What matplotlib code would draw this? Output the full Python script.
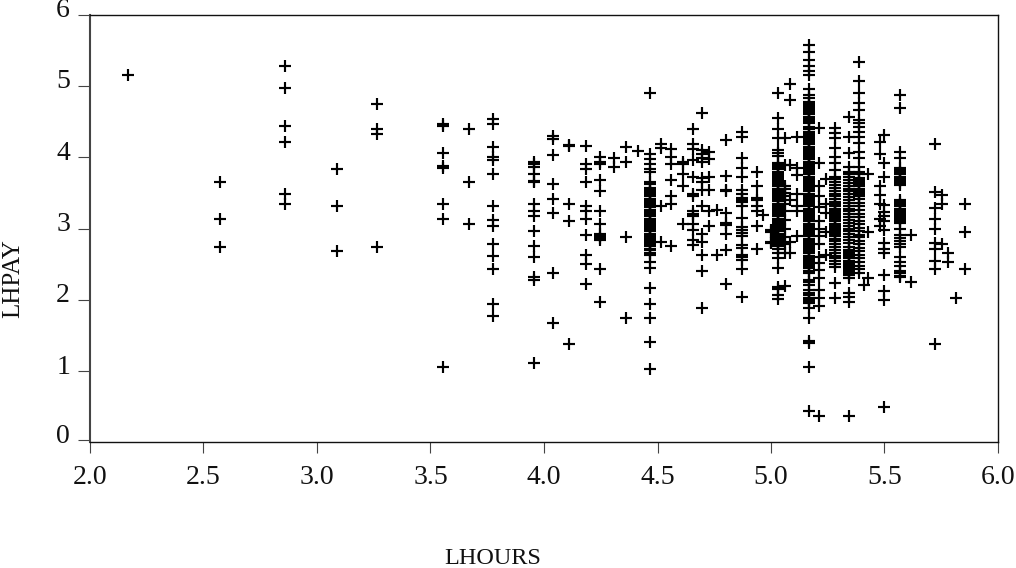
import matplotlib
matplotlib.use("Agg")
from matplotlib import pyplot as plt
from matplotlib.transforms import ScaledTranslation

# log hours for each vertical column of points
lhours = [2.167, 2.574, 2.857, 3.087, 3.264, 3.556, 3.671, 3.777, 3.954, 4.038,
          4.110, 4.184, 4.247, 4.308, 4.361, 4.414, 4.466, 4.517, 4.561, 4.611,
          4.655, 4.696, 4.727, 4.760, 4.800, 4.874, 4.937, 4.966, 5.000, 5.031,
          5.062, 5.084, 5.115, 5.166, 5.210, 5.243, 5.282, 5.344, 5.386, 5.410,
          5.428, 5.480, 5.500, 5.569, 5.615, 5.721, 5.752, 5.778, 5.815, 5.856]

lhpay = [
    [5.15],
    [3.66, 3.13, 2.74],
    [5.28, 4.97, 4.44, 4.22, 3.48, 3.34],
    [3.84, 3.31, 2.69],
    [4.75, 4.39, 4.33, 2.74],
    [4.46, 4.44, 4.06, 3.88, 3.85, 3.34, 3.13, 1.06],
    [4.40, 3.66, 3.06],
    [4.53, 4.47, 4.14, 4.00, 3.96, 3.77, 3.31, 3.12, 3.04, 2.78, 2.62, 2.43, 1.94, 1.78],
    [3.93, 3.90, 3.87, 3.77, 3.67, 3.65, 3.34, 3.25, 3.17, 2.97, 2.76, 2.60, 2.32, 2.28, 1.12],
    [4.30, 4.25, 4.03, 3.62, 3.41, 3.22, 2.37, 1.68],
    [4.17, 4.16, 3.34, 3.10, 1.38],
    [4.16, 3.90, 3.84, 3.66, 3.32, 3.25, 3.13, 2.91, 2.63, 2.50, 2.22],
    [4.01, 3.94, 3.91, 3.68, 3.52, 3.25, 3.07, 2.93, 2.90, 2.87, 2.84, 2.43, 1.97],
    [3.99, 3.86],
    [4.15, 3.94, 2.88, 1.74],
    [4.09],
    [4.90, 4.05, 3.98, 3.90, 3.84, 3.80, 3.66, 3.63, 3.57, 3.54, 3.51, 3.48, 3.45, 3.42,
     3.39, 3.36, 3.33, 3.30, 3.26, 3.23, 3.20, 3.17, 3.14, 3.11, 3.08, 3.05, 3.02, 2.99,
     2.96, 2.93, 2.90, 2.87, 2.84, 2.81, 2.78, 2.75, 2.72, 2.70, 2.65, 2.63, 2.53, 2.44,
     2.16, 1.94, 1.74, 1.41, 1.03],
    [4.18, 4.13, 3.32, 2.81],
    [4.12, 4.00, 3.91, 3.68, 3.46, 3.34, 2.75],
    [3.94, 3.91, 3.77, 3.59, 3.07],
    [4.40, 4.19, 4.12, 3.96, 3.73, 3.49, 3.45, 3.24, 3.20, 3.17, 3.07, 2.98, 2.84, 2.77],
    [4.62, 4.10, 4.05, 3.99, 3.94, 3.71, 3.66, 3.54, 3.31, 2.93, 2.81, 2.63, 2.41, 1.88],
    [4.08, 3.98, 3.73, 3.54, 3.24, 3.03],
    [3.26, 2.63],
    [4.24, 3.74, 3.54, 3.52, 3.22, 3.08, 3.05, 2.93, 2.70, 2.22],
    [4.36, 4.29, 3.99, 3.85, 3.72, 3.54, 3.49, 3.43, 3.40, 3.37, 3.31, 3.15, 3.02, 2.98,
     2.94, 2.90, 2.77, 2.73, 2.63, 2.60, 2.56, 2.43, 2.04],
    [3.80, 3.60, 3.43, 3.40, 3.31, 3.24, 3.03, 2.72],
    [3.19],
    [2.98, 2.95, 2.81, 2.80],
    [4.90, 4.55, 4.40, 4.27, 4.10, 4.06, 4.02, 3.92, 3.89, 3.86, 3.83, 3.80, 3.77, 3.74,
     3.71, 3.68, 3.65, 3.62, 3.59, 3.56, 3.53, 3.50, 3.47, 3.44, 3.41, 3.38, 3.35, 3.32,
     3.29, 3.26, 3.23, 3.20, 3.17, 3.14, 3.11, 3.08, 3.05, 3.02, 2.99, 2.96, 2.93, 2.90,
     2.87, 2.84, 2.81, 2.78, 2.75, 2.72, 2.66, 2.59, 2.44, 2.18, 2.15, 2.07, 2.01],
    [4.27, 3.89, 3.60, 3.55, 3.50, 3.45, 3.35, 3.24, 3.12, 3.00, 2.88, 2.78, 2.66, 2.19],
    [5.03, 4.81, 3.89, 3.40, 2.81, 2.65],
    [4.28, 3.85, 3.75, 3.49, 3.31, 3.24, 2.90],
    [5.57, 5.47, 5.36, 5.28, 5.21, 5.15, 4.96, 4.87, 4.83, 4.78, 4.75, 4.72, 4.69, 4.66,
     4.63, 4.60, 4.57, 4.54, 4.51, 4.48, 4.42, 4.39, 4.36, 4.33, 4.30, 4.27, 4.24, 4.21,
     4.18, 4.15, 4.12, 4.09, 4.06, 4.03, 4.00, 3.97, 3.94, 3.91, 3.88, 3.85, 3.82, 3.79,
     3.76, 3.73, 3.70, 3.67, 3.64, 3.61, 3.58, 3.55, 3.52, 3.49, 3.46, 3.43, 3.40, 3.37,
     3.34, 3.31, 3.28, 3.25, 3.22, 3.19, 3.16, 3.13, 3.10, 3.07, 3.04, 3.01, 2.98, 2.95,
     2.92, 2.89, 2.86, 2.83, 2.80, 2.77, 2.74, 2.71, 2.68, 2.65, 2.62, 2.59, 2.56, 2.53,
     2.50, 2.47, 2.44, 2.41, 2.37, 2.28, 2.25, 2.21, 2.14, 2.10, 2.07, 2.03, 2.00, 1.97,
     1.95, 1.88, 1.74, 1.42, 1.40, 1.06, 0.44],
    [4.41, 3.92, 3.60, 3.45, 3.30, 3.10, 3.00, 2.90, 2.79, 2.60, 2.51, 2.42, 2.30, 2.14,
     2.02, 1.91, 0.37],
    [3.69, 3.35, 3.22, 2.95, 2.63],
    [4.41, 4.34, 4.27, 4.13, 4.01, 3.92, 3.82, 3.73, 3.69, 3.65, 3.61, 3.57, 3.53, 3.49,
     3.45, 3.41, 3.37, 3.34, 3.31, 3.28, 3.25, 3.22, 3.19, 3.16, 3.13, 3.10, 3.07, 3.04,
     3.01, 2.98, 2.95, 2.92, 2.89, 2.86, 2.82, 2.78, 2.74, 2.70, 2.66, 2.62, 2.58, 2.54,
     2.50, 2.46, 2.23, 2.02],
    [4.56, 4.28, 4.06, 3.86, 3.80, 3.76, 3.72, 3.68, 3.64, 3.60, 3.56, 3.52, 3.48, 3.44,
     3.40, 3.36, 3.32, 3.28, 3.24, 3.20, 3.16, 3.12, 3.08, 3.04, 3.00, 2.96, 2.92, 2.88,
     2.84, 2.80, 2.74, 2.70, 2.67, 2.64, 2.61, 2.58, 2.55, 2.52, 2.49, 2.46, 2.43, 2.40,
     2.37, 2.35, 2.30, 2.10, 2.04, 1.97, 0.37],
    [5.34, 5.07, 4.90, 4.76, 4.66, 4.52, 4.48, 4.42, 4.35, 4.28, 4.20, 4.07, 3.99, 3.86,
     3.80, 3.76, 3.71, 3.68, 3.65, 3.62, 3.59, 3.56, 3.53, 3.50, 3.47, 3.45, 3.41, 3.36,
     3.31, 3.26, 3.21, 3.16, 3.11, 3.06, 3.01, 2.96, 2.91, 2.88, 2.83, 2.78, 2.73, 2.68,
     2.63, 2.58, 2.53, 2.48, 2.43, 2.38],
    [2.21],
    [3.76, 2.95, 2.31],
    [4.22, 4.05, 3.59, 3.47, 3.35, 3.13, 3.03],
    [4.31, 3.92, 3.73, 3.33, 3.23, 3.17, 3.10, 2.98, 2.80, 2.72, 2.65, 2.35, 2.13, 2.00, 0.50],
    [4.88, 4.69, 4.07, 3.99, 3.85, 3.82, 3.79, 3.76, 3.73, 3.70, 3.67, 3.64, 3.61, 3.40,
     3.37, 3.34, 3.31, 3.28, 3.25, 3.22, 3.19, 3.16, 3.13, 3.10, 3.08, 3.00, 2.91, 2.87,
     2.83, 2.79, 2.74, 2.60, 2.53, 2.47, 2.40, 2.37, 2.34, 2.32],
    [2.91, 2.25],
    [4.18, 3.51, 3.29, 3.13, 3.00, 2.80, 2.72, 2.55, 2.43, 1.38],
    [3.47, 3.34, 2.78],
    [2.65, 2.53],
    [2.03],
    [3.34, 2.95, 2.43],
]

xticks = [2.0, 2.5, 3.0, 3.5, 4.0, 4.5, 5.0, 5.5, 6.0]
xlabels = ["2.0", "2.5", "3.0", "3.5", "4.0", "4.5", "5.0", "5.5", "6.0"]
yticks = [0.03, 1, 2, 3, 4, 5, 6]  # the 0 tick sits a little above the axis in the original
ylabels = ["0", "1", "2", "3", "4", "5", "6"]

plt.rcParams['font.family'] = ['Liberation Serif', 'DejaVu Serif']

W, H = 1016, 568
fig = plt.figure(figsize=(W / 100, H / 100), dpi=100)
ax = fig.add_axes([90 / W, 1 - 442.4 / H, 908 / W, (442.4 - 14.7) / H])

xs = []
ys = []
for x, col in zip(lhours, lhpay):
    for y in col:
        xs.append(x)
        ys.append(y)
ax.plot(xs, ys, linestyle='none', marker='+', color='black', markersize=8.4, markeredgewidth=1.55,
        clip_on=False)

ax.set_xlim(2, 6)
ax.set_ylim(0, 6)
ax.set_xticks(xticks, xlabels)
ax.set_yticks(yticks, ylabels)
ax.tick_params(axis='x', direction='out', length=8, width=0.8, color='#444444', pad=8, labelsize=20,
               labelcolor='#111111')
ax.tick_params(axis='y', direction='out', length=8.6, width=0.8, color='#444444', pad=5.8, labelsize=20,
               labelcolor='#111111')

# y labels stand a few pixels above their ticks
up = ScaledTranslation(0, 7 / 100, fig.dpi_scale_trans)
for lab in ax.get_yticklabels():
    lab.set_transform(lab.get_transform() + up)

for side in ['top', 'right', 'bottom']:
    ax.spines[side].set_linewidth(1.0)
    ax.spines[side].set_color('#111111')
ax.spines['left'].set_linewidth(1.5)
ax.spines['left'].set_color('#444444')

fig.text(493 / W, 1 - 558 / H, "LHOURS", ha='center', va='center', fontsize=17.5, color='#111111')
fig.text(13 / W, 1 - 279 / H, "LHPAY", ha='center', va='center', rotation=90, fontsize=18, color='#111111')

fig.savefig("out.png", dpi=100)
